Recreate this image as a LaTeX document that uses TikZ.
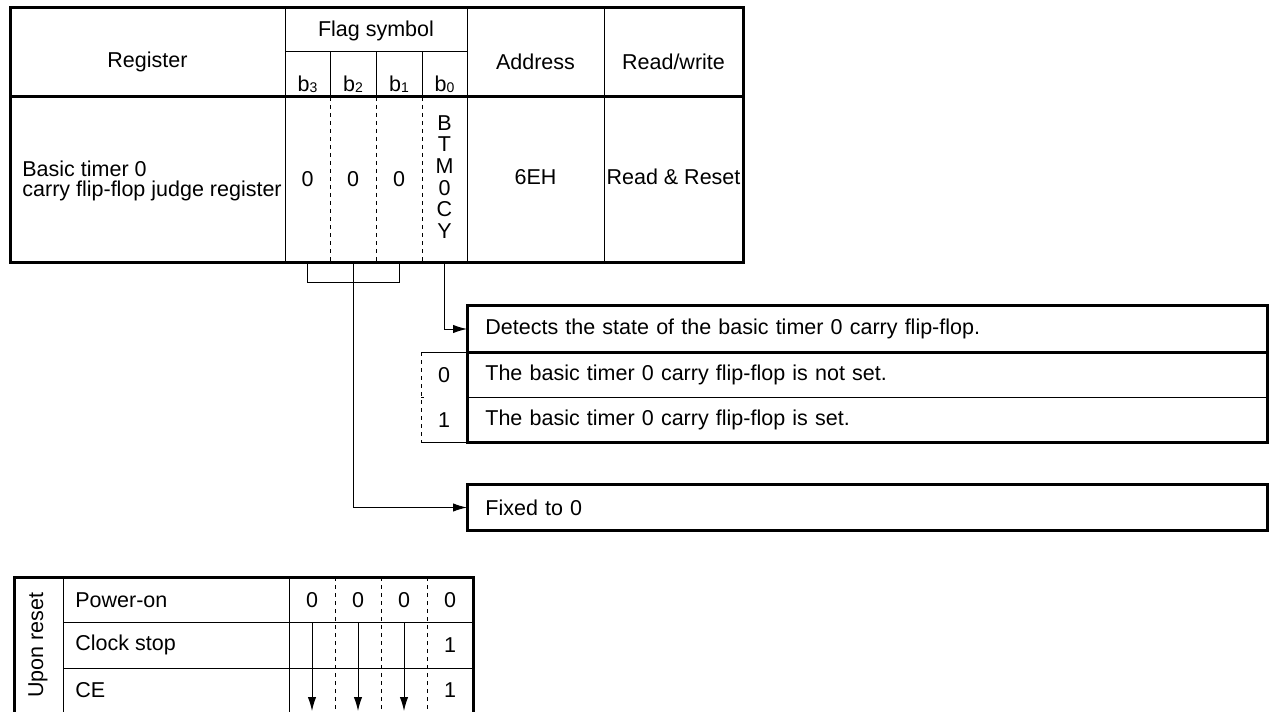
\documentclass[tikz,border=0pt]{standalone}
\usepackage{fontspec}
\setmainfont{Liberation Sans}
\usetikzlibrary{arrows.meta,positioning}
\tikzset{
  txt/.style={inner sep=0pt,font=\fontsize{10.75}{10.8}\selectfont},
  thinln/.style={line width=0.5pt},
  boldln/.style={line width=1.5pt},
  dashln/.style={line width=0.5pt,dash pattern=on 2pt off 2pt},
  rowbox/.style={txt,anchor=west,inner xsep=9pt,text width=382pt,align=left,minimum height=22.5pt},
  bitcell/.style={txt,minimum width=23pt,minimum height=82.5pt,align=center},
  arr/.style={line width=0.5pt,-{Latex[length=7pt,width=4.2pt]}},
}
\newcommand{\Val}[3]% pos, name, text
{\node[txt] (#2) at (#1) {#3};}
\newcommand{\Link}[3]% from, to, style
{\draw[arr,#3] (#1) |- (#2);}
\newcommand{\Bit}[1]% bit number
{b\raisebox{-0.1ex}{\fontsize{7}{7}\selectfont#1}}

\begin{document}
\begin{tikzpicture}[x=0.5pt,y=-0.5pt]
  \useasboundingbox (0,0) rectangle (1277,711);
  \clip (0,0) rectangle (1277,711);
  % register table
  \draw[thinln] (285,52) -- (467,52);
  \foreach \x in {285,467,604} \draw[thinln] (\x,8) -- (\x,262);
  \foreach \x in {330,376,422} {
    \draw[thinln] (\x,52) -- (\x,97);
    \draw[dashln] (\x,97) -- (\x,262);
  }
  \draw[boldln] (10,97) -- (743,97);
  \draw[boldln] (10,8) rectangle (743,262);
  \Val{147.5,62}{reg}{Register}
  \Val{376,31}{flag}{Flag symbol}
  \Val{307.5,84}{h3}{\Bit{3}}
  \Val{353,84}{h2}{\Bit{2}}
  \Val{399,84}{h1}{\Bit{1}}
  \Val{444.5,84}{h0}{\Bit{0}}
  \Val{535.5,62}{addr}{Address}
  \Val{673.5,62}{rw}{Read/write}
  \node[txt,anchor=west,align=left,font=\fontsize{10.75}{10}\selectfont] (name) at (22,181)
    {Basic timer 0\\carry flip-flop judge register};
  \node[bitcell] (v3) at (307.5,179.5) {0};
  \node[bitcell] (v2) at (353,179.5) {0};
  \node[bitcell] (v1) at (399,179.5) {0};
  \node[bitcell] (v0) at (444.5,177) {B\\T\\M\\0\\C\\Y};
  \Val{535.5,177}{adv}{6EH}
  \Val{673.5,177}{rwv}{Read \& Reset}
  % b0 description
  \node[rowbox,minimum height=23pt] (det) at (467,329) {Detects the state of the basic timer 0 carry flip-flop.};
  \node[rowbox] (nset) at (467,374.5) {The basic timer 0 carry flip-flop is not set.};
  \node[rowbox] (isset) at (467,419.5) {The basic timer 0 carry flip-flop is set.};
  \draw[thinln] (nset.south west) -- (nset.south east);
  \draw[boldln] (det.south west) -- (det.south east);
  \draw[boldln] (det.north west) rectangle (isset.south east);
  \Val{444,375}{s0}{0}
  \Val{444,420}{s1}{1}
  \draw[thinln] (467,352) -- (421,352);
  \draw[thinln] (467,442) -- (421,442);
  \draw[dashln] (421,352) -- (421,442);
  \draw[thinln] (421,397) -- (424,397);
  % b3-b1
  \node[rowbox] (fixed) at (467,507.5) {Fixed to 0};
  \draw[boldln] (fixed.north west) rectangle (fixed.south east);
  \Link{v0.south|-v1.south}{det.west}{}
  \Link{v2.south}{fixed.west}{}
  \draw[thinln] (v3.south) -- ++(0,20) -| (v1.south);
  % reset values
  \draw[thinln] (63,577) -- (63,714);
  \draw[thinln] (289,577) -- (289,714);
  \foreach \y in {622,668} \draw[thinln] (63,\y) -- (473,\y);
  \foreach \x in {335,381,427} \draw[dashln] (\x,577) -- (\x,714);
  \draw[boldln] (14,577) rectangle (473,714);
  \node[txt,rotate=90] (upon) at (38,645) {Upon reset};
  \node[txt,anchor=west] (pwr) at (75,600) {Power-on};
  \node[txt,anchor=west] (clk) at (75,645) {Clock stop};
  \node[txt,anchor=west] (ce) at (75,690) {CE};
  \foreach \x/\n in {312/3,358/2,404/1,450/0} {\Val{\x,600}{p\n}{0}}
  \Val{450,645}{c0}{1}
  \Val{450,690}{e0}{1}
  \foreach \x/\n in {312/3,358/2,404/1} {
    \coordinate (t\n) at (\x,622);
    \coordinate (u\n) at (\x,711);
    \draw[arr] (t\n) -- (u\n);
  }
\end{tikzpicture}
\end{document}
